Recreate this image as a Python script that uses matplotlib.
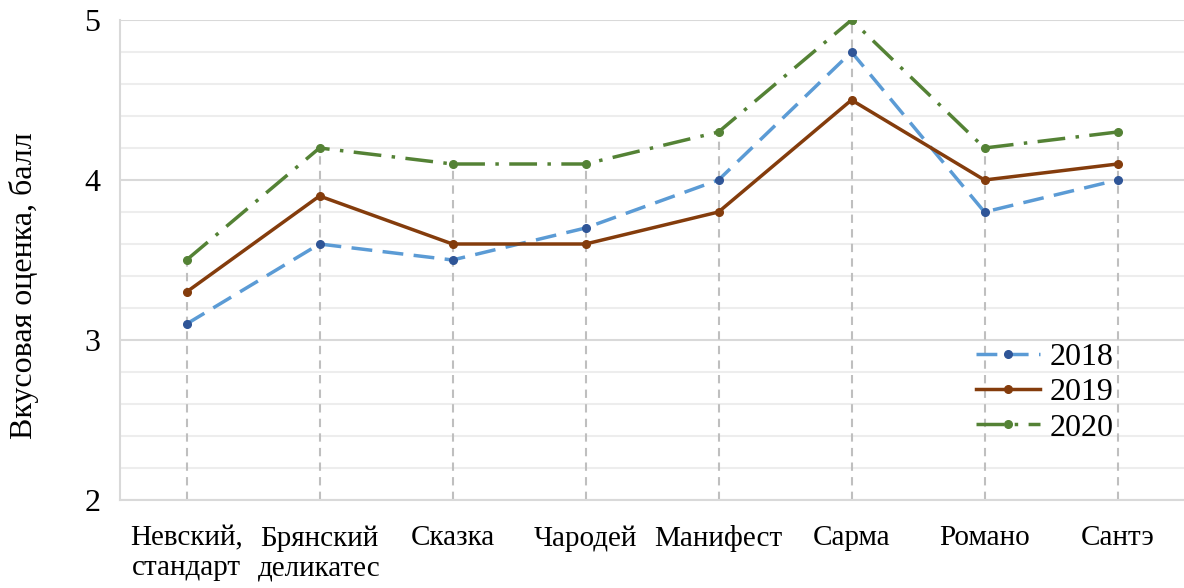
import matplotlib
matplotlib.use("Agg")
import matplotlib.pyplot as plt
from matplotlib.ticker import MultipleLocator

plt.rcParams["font.family"] = ["Liberation Serif", "DejaVu Serif"]

varieties = ["Невский,\nстандарт", "Брянский\nделикатес", "Сказка", "Чародей",
             "Манифест", "Сарма", "Романо", "Сантэ"]
score_2018 = [3.1, 3.6, 3.5, 3.7, 4.0, 4.8, 3.8, 4.0]
score_2019 = [3.3, 3.9, 3.6, 3.6, 3.8, 4.5, 4.0, 4.1]
score_2020 = [3.5, 4.2, 4.1, 4.1, 4.3, 5.0, 4.2, 4.3]

fig = plt.figure(figsize=(11.84, 5.88), dpi=100)
ax = fig.add_axes([120 / 1184, 88 / 588, 1064 / 1184, 480 / 588])

x = list(range(len(varieties)))

# drop lines from the highest series down to the axis
top = [max(a, b, c) for a, b, c in zip(score_2018, score_2019, score_2020)]
ax.vlines(x, 2, top, colors="#BFBFBF", linestyles=(0, (4, 3)), linewidth=1.5, zorder=1)

ax.plot(x, score_2018, color="#5B9BD5", linewidth=2.5, linestyle=(0, (6, 3)),
        marker="o", markersize=5.5, markerfacecolor="#2F5597", markeredgecolor="#2F5597",
        label="2018", zorder=3)
ax.plot(x, score_2019, color="#843C0C", linewidth=2.5,
        marker="o", markersize=5.5, markerfacecolor="#843C0C", markeredgecolor="#843C0C",
        label="2019", zorder=3)
ax.plot(x, score_2020, color="#548235", linewidth=2.5, linestyle=(0, (8, 3, 1, 3)),
        marker="o", markersize=5.5, markerfacecolor="#548235", markeredgecolor="#548235",
        label="2020", zorder=3)

ax.set_xlim(-0.5, len(varieties) - 0.5)
ax.set_ylim(2, 5)
ax.yaxis.set_major_locator(MultipleLocator(1))
ax.yaxis.set_minor_locator(MultipleLocator(0.2))
ax.grid(True, which="major", axis="y", color="#D9D9D9", linewidth=1.5, zorder=0)
ax.grid(True, which="minor", axis="y", color="#EDEDED", linewidth=1.5, zorder=0)
ax.set_axisbelow(True)

ax.set_xticks(x)
ax.set_xticklabels(varieties, fontsize=21, linespacing=1.2)
ax.tick_params(axis="x", length=0, pad=18)
ax.tick_params(axis="y", which="both", length=0, labelsize=23, pad=14)
ax.set_ylabel("Вкусовая оценка, балл", fontsize=23)
ax.yaxis.set_label_coords(-0.076, 0.446)

for side in ("top", "right"):
    ax.spines[side].set_visible(False)
for side in ("left", "bottom"):
    ax.spines[side].set_color("#D9D9D9")
    ax.spines[side].set_linewidth(1.5)

ax.legend(loc="lower right", bbox_to_anchor=(0.955, 0.073), frameon=False,
          fontsize=23, handlelength=2.0, handletextpad=0.3, labelspacing=0.18,
          borderpad=0.2)

fig.savefig("out.png", dpi=100)
